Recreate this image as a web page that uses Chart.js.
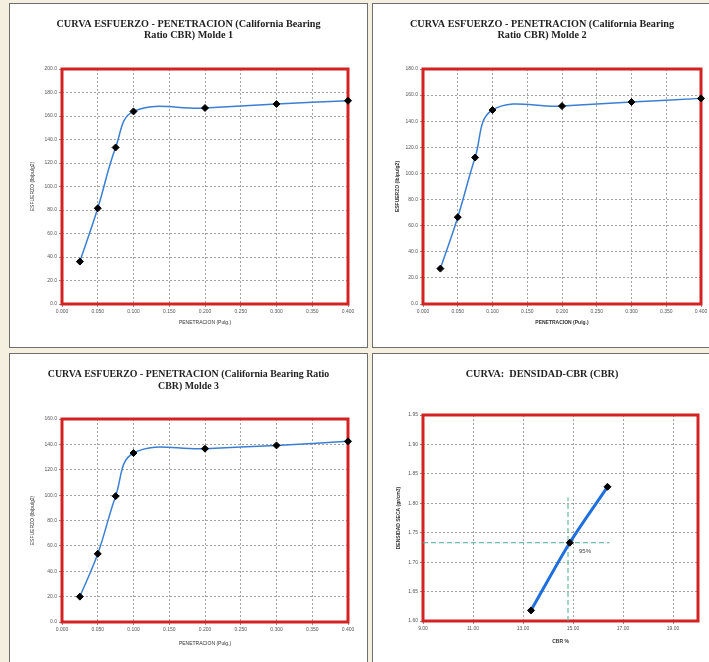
<!DOCTYPE html>
<html>
<head>
<meta charset="utf-8">
<script src="https://cdn.jsdelivr.net/npm/chart.js@4.4.1/dist/chart.umd.min.js"></script>
<style>
  body { margin: 0; width: 709px; height: 662px; background: #f5efdf; position: relative; overflow: hidden; }
  .panel { position: absolute; background: #fff; border: 1px solid #6f6f6f; }
  canvas { display: block; }
</style>
</head>
<body>
<div class="panel" style="left:9px;top:3px;width:357px;height:343px"><canvas id="c1" width="357" height="343"></canvas></div>
<div class="panel" style="left:372px;top:3px;width:338px;height:343px"><canvas id="c2" width="338" height="343"></canvas></div>
<div class="panel" style="left:9px;top:353px;width:357px;height:318px"><canvas id="c3" width="357" height="318"></canvas></div>
<div class="panel" style="left:372px;top:353px;width:338px;height:318px"><canvas id="c4" width="338" height="318"></canvas></div>
<script>
// data
const penetracion = [0.025, 0.050, 0.075, 0.100, 0.200, 0.300, 0.400];
const esfuerzoM1 = [36.1, 81.5, 133.2, 163.9, 166.8, 170.2, 173.0];
const esfuerzoM2 = [27.1, 66.5, 112.2, 148.6, 151.6, 154.7, 157.5];
const esfuerzoM3 = [20.0, 53.7, 99.2, 133.2, 136.6, 139.2, 142.4];
const penTicks = [0, 0.05, 0.10, 0.15, 0.20, 0.25, 0.30, 0.35, 0.40];
const ticksM1 = [0, 20, 40, 60, 80, 100, 120, 140, 160, 180, 200];
const ticksM2 = [0, 20, 40, 60, 80, 100, 120, 140, 160, 180];
const ticksM3 = [0, 20, 40, 60, 80, 100, 120, 140, 160];

const cbr = [13.32, 14.87, 16.38];
const densidad = [1.618, 1.733, 1.828];
const cbrTicks = [9, 11, 13, 15, 17, 19];
const densTicks = [1.60, 1.65, 1.70, 1.75, 1.80, 1.85, 1.90, 1.95];
const guideV = [[14.80, 1.60], [14.80, 1.81]];
const guideH = [[9, 1.733], [16.46, 1.733]];
const label95 = [15.48, 1.719, "95%"];

const pts = (xs, ys) => xs.map((x, i) => ({x, y: ys[i]}));

// red plot frame + title + free labels
const frame = {
  id: "frame",
  beforeDatasetsDraw(chart) {
    const a = chart.chartArea, ctx = chart.ctx;
    ctx.save();
    ctx.strokeStyle = "#d42222";
    ctx.lineWidth = 3;
    ctx.strokeRect(a.left, a.top, a.right - a.left, a.bottom - a.top);
    ctx.restore();
  },
  afterDraw(chart, args, o) {
    const ctx = chart.ctx;
    ctx.save();
    ctx.fillStyle = "#222";
    ctx.font = "bold " + (o.size || 10.2) + "px 'Liberation Serif'";
    ctx.textAlign = "center";
    ctx.textBaseline = "middle";
    o.title.forEach((t, i) => ctx.fillText(t, chart.width / 2 + (o.dx || 0), o.titleY[i]));
    (o.labels || []).forEach(([x, y, t]) => {
      ctx.font = "6px 'Liberation Sans'";
      ctx.fillStyle = "#444";
      ctx.fillText(t, chart.scales.x.getPixelForValue(x), chart.scales.y.getPixelForValue(y));
    });
    ctx.restore();
  }
};

function axes(xt, yt, xr, yr, xTicks, yTicks, xDig, yDig, yw, xh, bold) {
  const font = {family: "Liberation Sans", size: 5};
  const tfont = {family: "Liberation Sans", size: 5, weight: bold ? "bold" : "normal"};
  const side = (title, range, ticks, dig, fit) => ({
    type: "linear", min: range[0], max: range[1],
    afterBuildTicks: s => { s.ticks = ticks.map(value => ({value})); },
    afterFit: fit,
    grid: {color: "#858585", lineWidth: 0.75, tickLength: 3, tickColor: "#666"},
    border: {display: false, dash: [2, 2]},
    ticks: {font, color: "#555", padding: 2, autoSkip: false, maxRotation: 0, callback: v => v.toFixed(dig)},
    title: {display: true, text: title, font: tfont, color: "#333", padding: 0}
  });
  return {
    x: side(xt, xr, xTicks, xDig, s => { s.height = xh; }),
    y: side(yt, yr, yTicks, yDig, s => { s.width = yw; })
  };
}

function curva(id, title, titleY, size, ys, yTicks, pad, yw, xh, bold) {
  return new Chart(document.getElementById(id), {
    type: "scatter",
    data: {datasets: [{
      data: pts(penetracion, ys), showLine: true, tension: 0.4, clip: false,
      borderColor: "#3c7fd2", borderWidth: 1.5,
      pointStyle: "rectRot", pointRadius: 3.5, pointBackgroundColor: "#000", pointBorderColor: "#000", pointBorderWidth: 1
    }]},
    options: {
      responsive: false, animation: false, devicePixelRatio: 1,
      layout: {padding: pad},
      scales: axes("PENETRACION (Pulg.)", "ESFUERZO (lb/pulg2)", [0, 0.4], [0, yTicks[yTicks.length - 1]],
        penTicks, yTicks, 3, 1, yw, xh, bold),
      plugins: {legend: {display: false}, tooltip: {enabled: false}, frame: {title, titleY, size}}
    },
    plugins: [frame]
  });
}

curva("c1", ["CURVA ESFUERZO - PENETRACION (California Bearing", "Ratio CBR) Molde 1"], [20, 31], 10.2,
  esfuerzoM1, ticksM1, {left: 20, right: 19, top: 65, bottom: 21}, 32, 22, false);
curva("c2", ["CURVA ESFUERZO - PENETRACION (California Bearing", "Ratio CBR) Molde 2"], [20, 31], 10.2,
  esfuerzoM2, ticksM2, {left: 22, right: 10, top: 65, bottom: 21}, 28, 22, true);
curva("c3", ["CURVA ESFUERZO - PENETRACION (California Bearing Ratio", "CBR) Molde 3"], [20, 32], 9.9,
  esfuerzoM3, ticksM3, {left: 20, right: 19, top: 65, bottom: 25}, 32, 25, false);

const guide = d => ({
  data: d.map(([x, y]) => ({x, y})), showLine: true, borderColor: "#4fae92", borderWidth: 1,
  borderDash: [5, 3], pointRadius: 0
});

new Chart(document.getElementById("c4"), {
  type: "scatter",
  data: {datasets: [
    {data: pts(cbr, densidad), showLine: true, tension: 0.3, clip: false,
      borderColor: "#1f6fde", borderWidth: 3,
      pointStyle: "rectRot", pointRadius: 3.5, pointBackgroundColor: "#000", pointBorderColor: "#000", pointBorderWidth: 1},
    guide(guideV),
    guide(guideH)
  ]},
  options: {
    responsive: false, animation: false, devicePixelRatio: 1,
    layout: {padding: {left: 23, right: 13, top: 61, bottom: 27}},
    scales: axes("CBR %", "DENSIDAD SECA (gr/cm3)", [9, 20], [1.60, 1.95], cbrTicks, densTicks, 2, 2, 27, 24, true),
    plugins: {legend: {display: false}, tooltip: {enabled: false},
      frame: {title: ["CURVA:  DENSIDAD-CBR (CBR)"], titleY: [20], size: 10.2, labels: [label95]}}
  },
  plugins: [frame]
});
</script>
</body>
</html>
